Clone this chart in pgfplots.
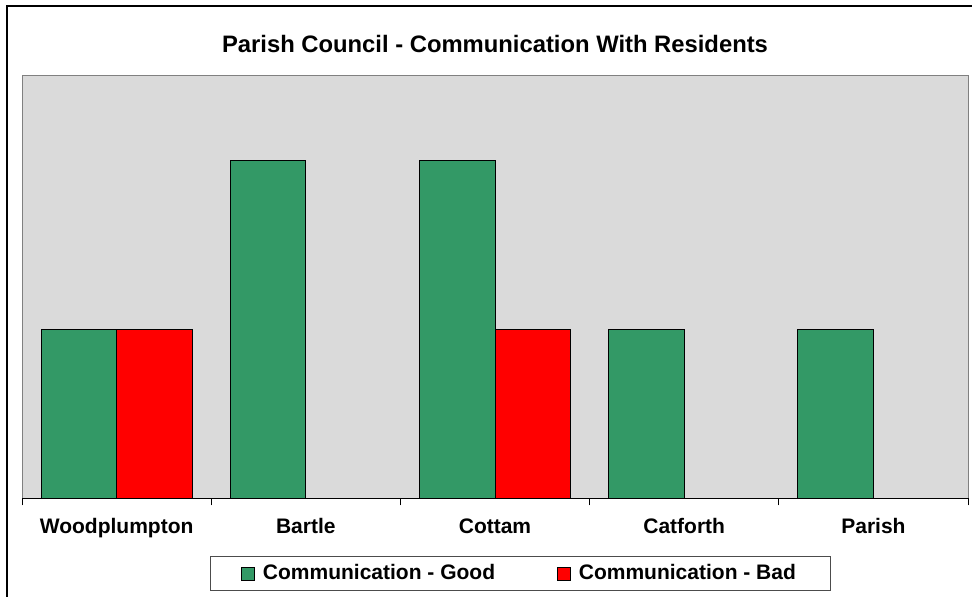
\documentclass[border=0pt]{standalone}
\usepackage{pgfplots}
\pgfplotsset{compat=1.18}
\usepackage{fontspec}
\setmainfont{Liberation Sans}
\definecolor{good}{HTML}{339966}
\definecolor{bad}{HTML}{FF0000}
\definecolor{bgpat}{RGB}{218,218,218}
\begin{document}
\begin{tikzpicture}
\useasboundingbox (0,0) rectangle (486pt,298.5pt);
\draw[line width=1.2pt] (3.5pt,-5pt) rectangle (500pt,295.5pt);
\begin{axis}[
  at={(11pt,49.25pt)}, anchor=south west,
  scale only axis, width=473pt, height=211.25pt,
  xmin=-0.5, xmax=4.5, ymin=0, ymax=2.5,
  axis x line*=bottom, axis y line=none,
  axis background/.style={fill=bgpat, draw=black!50, line width=0.5pt},
  x axis line style={black, line width=0.6pt},
  ybar=0pt, bar width=37.75pt,
  xtick={0,1,2,3,4},
  xticklabels={Woodplumpton,Bartle,Cottam,Catforth,Parish},
  minor xtick={-0.5,0.5,1.5,2.5,3.5,4.5},
  major tick length=0pt, minor tick length=3.5pt,
  tick align=outside, tick style={black, line width=0.5pt},
  xticklabel style={font=\bfseries\fontsize{10.5}{12}\selectfont, anchor=base, yshift=-17.75pt},
  title={Parish Council - Communication With Residents},
  title style={font=\bfseries\fontsize{11.9}{14}\selectfont, at={(0.5,1)}, anchor=base, yshift=5.5pt},
  legend columns=2,
  legend style={at={(0.527,-0.1775)}, anchor=center, draw=black!70, line width=0.5pt,
    font=\bfseries\fontsize{10.5}{12}\selectfont, inner xsep=15.5pt, inner ysep=2pt,
    /tikz/every odd column/.append style={column sep=2pt},
    /tikz/every even column/.append style={column sep=29pt}},
  legend image code/.code={\draw[#1,draw=black,line width=0.4pt] (0pt,-3.25pt) rectangle (6.5pt,3.25pt);},
]
\addplot[fill=good, draw=black, line width=0.5pt] coordinates {(0,1) (1,2) (2,2) (3,1) (4,1)};
\addplot[fill=bad, draw=black, line width=0.5pt] coordinates {(0,1) (2,1)};
\legend{Communication - Good, Communication - Bad}
\end{axis}
\end{tikzpicture}
\end{document}
